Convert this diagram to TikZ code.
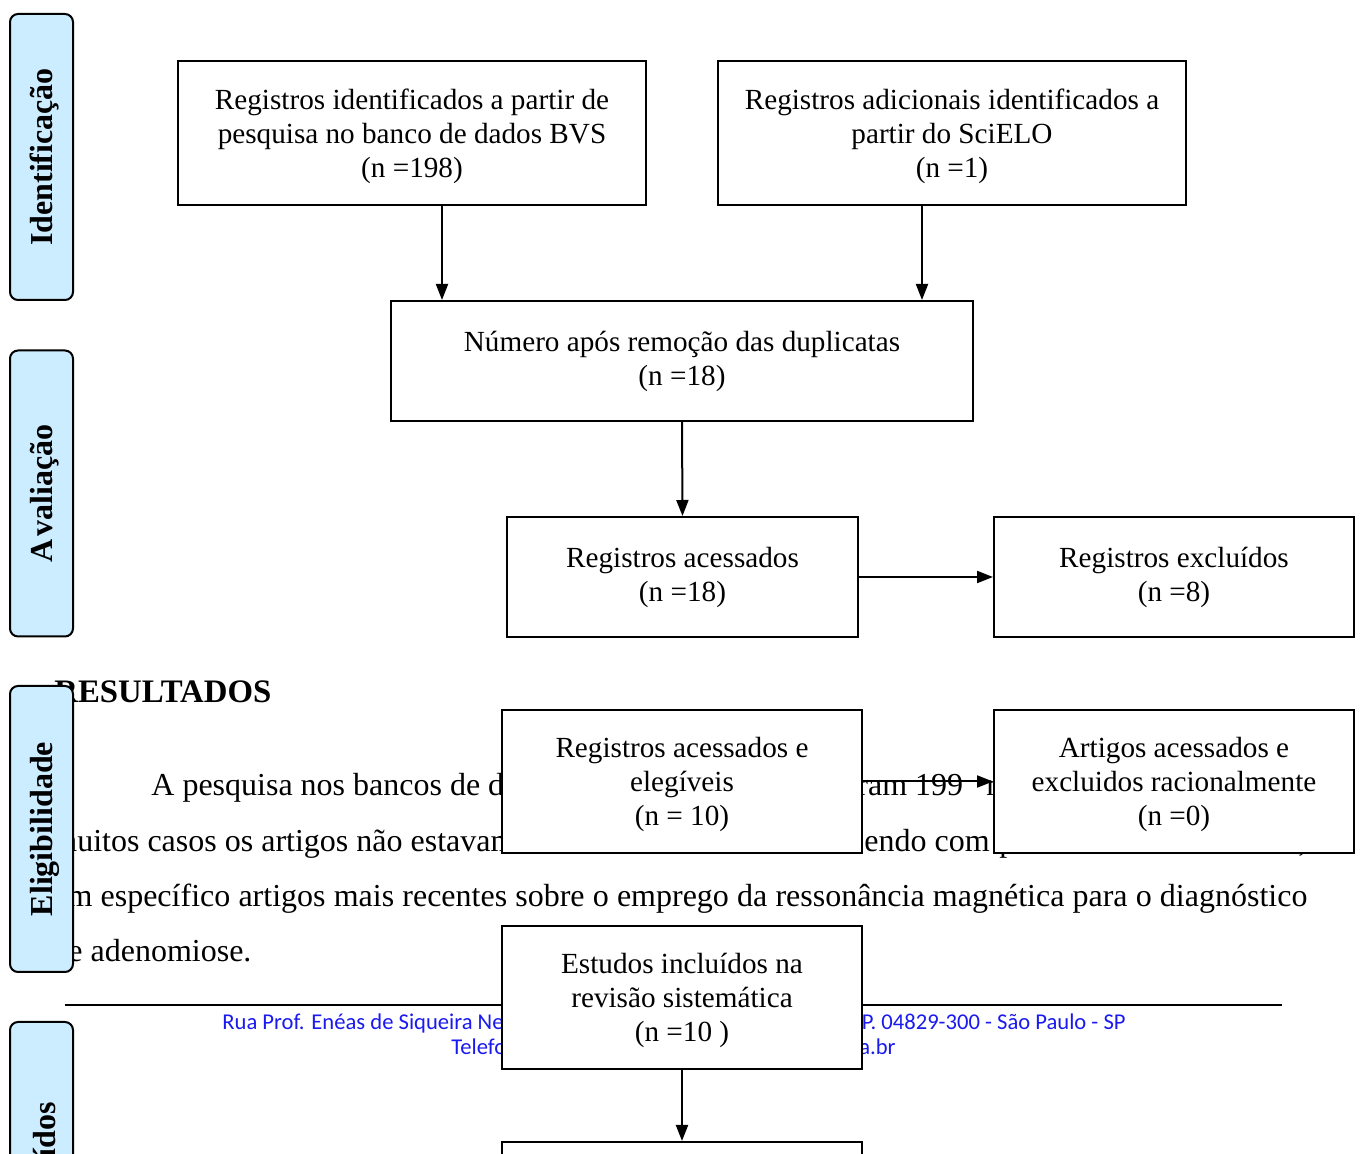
\documentclass[tikz,border=0pt]{standalone}
\usepackage{fontspec}
\setmainfont{Liberation Serif}
\newfontfamily\footfont{Carlito}
\usetikzlibrary{arrows.meta}
\definecolor{lblue}{HTML}{CCECFF}
\definecolor{footblue}{HTML}{1A1AF0}
\newcommand{\phaselabel}[1]{\raisebox{-1.5pt}[\height][\depth]{#1}}
\begin{document}
\begin{tikzpicture}[x=0.5pt,y=-0.5pt,
  flow/.style={draw, line width=1pt, fill=white, align=center, inner sep=0pt, font=\fontsize{14.6}{17}\selectfont},
  flowthree/.style={flow, text depth=0pt},
  phase/.style={draw, line width=1pt, fill=lblue, rounded corners=4pt, rotate=90, minimum width=143pt, minimum height=31.5pt, inner sep=0pt, font=\bfseries\fontsize{16}{19}\selectfont},
  arr/.style={-{Triangle[length=8pt,width=6pt]}, line width=1pt},
  body/.style={anchor=base west, inner sep=0pt, font=\fontsize{16}{18}\selectfont},
  foot/.style={inner sep=0pt, text=footblue, font=\footfont\fontsize{11.3}{13}\selectfont}]
\useasboundingbox (0,0) rectangle (1362,1154);
\clip (0,0) rectangle (1362,1154);
\fill[white] (0,0) rectangle (1362,1154);

% page text behind the chart
\node[body, font=\bfseries\fontsize{16.4}{18}\selectfont] (t0) at (54,703) {RESULTADOS};
\node[body] (t1) at (151,796) {A pesquisa nos bancos de dados};
\node[body] (t1b) at (857,796) {ram 199};
\node[body] (t1c) at (986,796) {r};
\node[body] (t2) at (52,852) {muitos casos os artigos não estavam};
\node[body] (t2b) at (864,852) {endo com};
\node[body] (t2c) at (999,852) {p};
\node[body] (t2d) at (1298,852) {,};
\node[body] (t3) at (53,907) {\makebox[627pt][s]{em específico artigos mais recentes sobre o emprego da ressonância magnética para o diagnóstico}};
\node[body] (t4) at (52,962) {de adenomiose.};

% footer
\coordinate (fl) at (65,1005);
\coordinate (fr) at (1282,1005);
\draw[line width=1.2pt] (fl) -- (fr);
\node[foot, anchor=base west] (f1) at (222,1030) {Rua Prof. Enéas de Siqueira Neto};
\node[foot, anchor=base east] (f2) at (1126,1030) {CEP. 04829-300 - São Paulo - SP};
\node[foot, anchor=base west] (f3) at (451,1055) {Telefone};
\node[foot, anchor=base east] (f4) at (896,1055) {a.br};

% flow boxes
\node[flowthree, minimum width=234pt, minimum height=72pt] (b1) at (412,133)
  {Registros identificados a partir de\\pesquisa no banco de dados BVS\\(n =198)};
\node[flowthree, minimum width=234pt, minimum height=72pt] (b2) at (952,133)
  {Registros adicionais identificados a\\partir do SciELO\\(n =1)};
\node[flow, minimum width=291pt, minimum height=60pt] (b3) at (682,361)
  {Número após remoção das duplicatas\\(n =18)};
\node[flow, minimum width=175.5pt, minimum height=60pt] (b4) at (682.5,577)
  {Registros acessados\\(n =18)};
\node[flow, minimum width=180pt, minimum height=60pt] (b5) at (1174,577)
  {Registros excluídos\\(n =8)};
\node[flowthree, minimum width=180pt, minimum height=71.5pt] (b6) at (682,781.5)
  {Registros acessados e\\elegíveis\\(n = 10)};
\node[flowthree, minimum width=180pt, minimum height=71.5pt] (b7) at (1174,781.5)
  {Artigos acessados e\\excluidos racionalmente\\(n =0)};
\node[flowthree, minimum width=180pt, minimum height=71.5pt] (b8) at (682,997.5)
  {Estudos incluídos na\\revisão sistemática\\(n =10 )};
\node[flow, minimum width=180pt, minimum height=71.5pt] (b9) at (682,1213.5) {};

% connectors
\coordinate (xa) at (442,0);
\coordinate (xb) at (922,0);
\draw[arr] (b1.south -| xa) -- (b3.north -| xa);
\draw[arr] (b2.south -| xb) -- (b3.north -| xb);
\draw[arr] (b3.south) -- (b4.north);
\draw[arr] (b4.east) -- (b5.west);
\draw[arr] (b6.east) -- (b7.west);
\draw[arr] (b8.south) -- (b9.north);

% phase labels
\node[phase] (p1) at (41.5,157) {\phaselabel{Identificação}};
\node[phase] (p2) at (41.5,493.5) {\phaselabel{A\kern1.5pt valiação}};
\node[phase] (p3) at (41.5,829) {\phaselabel{Eligibilidade}};
\node[phase] (p4) at (41.5,1165) {\phaselabel{Incluídos}};
\end{tikzpicture}
\end{document}
